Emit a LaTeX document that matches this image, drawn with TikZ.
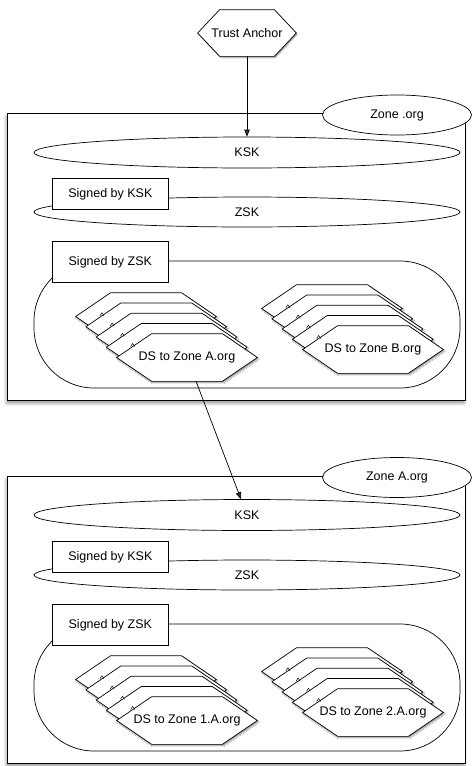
\documentclass[tikz,border=0pt]{standalone}
\usepackage{fontspec}
\setmainfont{Liberation Sans}
\usetikzlibrary{arrows.meta, shapes.geometric, shadows.blur}

\begin{document}
\begin{tikzpicture}[
    x=1pt, y=-1pt,
    line width=0.7pt,
    >={Triangle[length=7pt, width=5.5pt]},
    every node/.style={font=\fontsize{12.5pt}{15pt}\selectfont, inner sep=2pt},
    zonebox/.style={draw, fill=white, anchor=north west, minimum width=458pt, minimum height=287pt,
        blur shadow={shadow xshift=-1pt, shadow yshift=-3pt, shadow blur radius=3pt}},
    zonetag/.style={ellipse, draw, fill=white, minimum width=149pt, minimum height=40pt},
    keyoval/.style={ellipse, draw, fill=white, minimum width=426pt, minimum height=31pt},
    signbox/.style={draw, fill=white, anchor=north west, minimum width=116pt},
    recset/.style={draw, fill=white, rounded corners=60pt, minimum width=426pt, minimum height=127pt},
    % hexagon outline drawn round the node box, text goes in a centred label on top
    hexedge/.style={draw, fill=white,
        blur shadow={shadow xshift=1pt, shadow yshift=-1.5pt, shadow blur radius=1pt}},
    hexline/.style={append after command={\pgfextra{
        \draw[hexedge] (\tikzlastnode.west) -- ([xshift=#1]\tikzlastnode.north west)
            -- ([xshift=-#1]\tikzlastnode.north east) -- (\tikzlastnode.east)
            -- ([xshift=-#1]\tikzlastnode.south east) -- ([xshift=#1]\tikzlastnode.south west) -- cycle;}}},
    dsrec/.style={inner sep=0pt, minimum width=140pt, minimum height=47pt, hexline=35pt,
        label={center:#1}},
    dsrec/.default={},
    anchorhex/.style={inner sep=0pt, minimum width=98pt, minimum height=46pt, hexline=22pt,
        label={center:#1}}
]
   \useasboundingbox (0,0) rectangle (472,766);

   % Trust anchor on top
   \node[anchorhex={Trust Anchor}] (trust) at (247,33) {};

   % Zone .org
   \node[zonebox] (orgzone) at (7,113) {};
   \node[zonetag] (orgtag) at (397,115) {Zone .org};
   \node[keyoval] (orgksk) at (247,152.5) {KSK};
   \node[keyoval, minimum height=30pt] (orgzsk) at (247,212) {ZSK};
   \node[signbox, minimum height=31pt] (orgbyksk) at (52,178) {Signed by KSK};
   \node[recset] (orgset) at (247,324.5) {};
   \node[signbox, minimum height=41pt] (orgbyzsk) at (52,241) {Signed by ZSK};

   % DS record stacks
   \foreach \i in {4,...,1} {
      \node[dsrec] (dsA\i) at ({187-10.25*\i},{357.5-10.25*\i}) {};
      \node[dsrec] (dsB\i) at ({373-10.25*\i},{349.5-10.25*\i}) {};
   }
   \node[dsrec={DS to Zone A.org}] (dsA) at (187,357.5) {};
   \node[dsrec={DS to Zone B.org}] (dsB) at (373,349.5) {};
   \foreach \n in {dsA,dsA1,dsA2,dsA3,dsB,dsB1,dsB2,dsB3}
      \draw[line width=0.5pt] ([shift={(14,-11)}]\n.west) -- ++(2,-3) -- ++(2,3);

   % Zone A.org
   \node[zonebox] (azone) at (7,476) {};
   \node[zonetag] (atag) at (397,477.5) {Zone A.org};
   \node[keyoval] (aksk) at (247,515) {KSK};
   \node[keyoval, minimum height=30pt] (azsk) at (247,575) {ZSK};
   \node[signbox, minimum height=31pt] (abyksk) at (52,541) {Signed by KSK};
   \node[recset] (aset) at (247,687.5) {};
   \node[signbox, minimum height=41pt] (abyzsk) at (52,604) {Signed by ZSK};

   \foreach \i in {4,...,1} {
      \node[dsrec] (ds1A\i) at ({187-10.25*\i},{720.5-10.25*\i}) {};
      \node[dsrec] (ds2A\i) at ({373-10.25*\i},{712.5-10.25*\i}) {};
   }
   \node[dsrec={DS to Zone 1.A.org}] (ds1A) at (187,720.5) {};
   \node[dsrec={DS to Zone 2.A.org}] (ds2A) at (373,712.5) {};
   \foreach \n in {ds1A,ds1A1,ds1A2,ds1A3,ds2A,ds2A1,ds2A2,ds2A3}
      \draw[line width=0.5pt] ([shift={(14,-11)}]\n.west) -- ++(2,-3) -- ++(2,3);

   % Chain of trust
   \draw[->] (trust) -- (orgksk);
   \draw[->] (dsA) -- (aksk);
\end{tikzpicture}
\end{document}
